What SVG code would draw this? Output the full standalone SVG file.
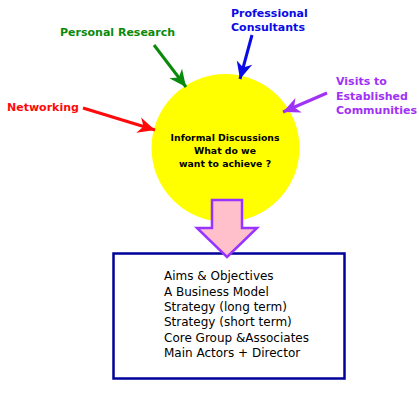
<svg xmlns="http://www.w3.org/2000/svg" width="419" height="400" viewBox="0 0 419 400">
<style>
.lbl{font-family:"DejaVu Sans","Liberation Sans",sans-serif;font-size:11px;font-weight:bold;}
.in{font-family:"DejaVu Sans","Liberation Sans",sans-serif;font-size:9.3px;font-weight:bold;fill:#000;}
.box{font-family:"DejaVu Sans","Liberation Sans",sans-serif;font-size:12px;fill:#000;}
.conn{stroke-width:3;fill:none;}
</style>
<defs>
<marker id="hg" markerUnits="userSpaceOnUse" viewBox="-18 -9 20 18" refX="0" refY="0" markerWidth="20" markerHeight="18" orient="auto"><path d="M0,0 L-17,-8 L-12,0 L-17,8 Z" fill="#0a8a0a"/></marker>
<marker id="hr" markerUnits="userSpaceOnUse" viewBox="-18 -9 20 18" refX="0" refY="0" markerWidth="20" markerHeight="18" orient="auto"><path d="M0,0 L-17,-8 L-12,0 L-17,8 Z" fill="#ff0a0a"/></marker>
<marker id="hb" markerUnits="userSpaceOnUse" viewBox="-18 -9 20 18" refX="0" refY="0" markerWidth="20" markerHeight="18" orient="auto"><path d="M0,0 L-17,-8 L-12,0 L-17,8 Z" fill="#0a0ae6"/></marker>
<marker id="hp" markerUnits="userSpaceOnUse" viewBox="-18 -9 20 18" refX="0" refY="0" markerWidth="20" markerHeight="18" orient="auto"><path d="M0,0 L-17,-8 L-12,0 L-17,8 Z" fill="#a032f5"/></marker>
</defs>
<rect width="419" height="400" fill="#fff"/>
<g id="discussion">
<circle cx="225.5" cy="148" r="74" fill="#ffff00"/>
<text class="in" x="225" y="141" text-anchor="middle">Informal Discussions</text>
<text class="in" x="225" y="154" text-anchor="middle">What do we</text>
<text class="in" x="225" y="166.5" text-anchor="middle">want to achieve ?</text>
</g>
<g id="personal-research"><text class="lbl" x="60" y="36" fill="#0a8a0a">Personal Research</text></g>
<g id="networking"><text class="lbl" x="7" y="111" fill="#ff0a0a">Networking</text></g>
<g id="professional-consultants">
<text class="lbl" x="231" y="17" fill="#0a0ae6">Professional</text>
<text class="lbl" x="231" y="31" fill="#0a0ae6">Consultants</text>
</g>
<g id="visits">
<text class="lbl" x="336" y="85" fill="#a032f5">Visits to</text>
<text class="lbl" x="336" y="100" fill="#a032f5">Established</text>
<text class="lbl" x="336" y="114" fill="#a032f5">Communities</text>
</g>
<g id="outcomes">
<rect x="113.5" y="253.5" width="231" height="125" fill="#fff" stroke="#00009c" stroke-width="2.5"/>
<text class="box" x="164" y="280">Aims &amp; Objectives</text>
<text class="box" x="164" y="295.5">A Business Model</text>
<text class="box" x="164" y="311">Strategy (long term)</text>
<text class="box" x="164" y="326">Strategy (short term)</text>
<text class="box" x="164" y="341.5">Core Group &amp;Associates</text>
<text class="box" x="164" y="357">Main Actors + Director</text>
</g>
<g id="connectors">
<line class="conn" x1="154" y1="45" x2="186" y2="87" stroke="#0a8a0a" marker-end="url(#hg)"/>
<line class="conn" x1="83" y1="108" x2="155" y2="130" stroke="#ff0a0a" marker-end="url(#hr)"/>
<line class="conn" x1="252" y1="35" x2="240" y2="79" stroke="#0a0ae6" marker-end="url(#hb)"/>
<line class="conn" x1="327" y1="93" x2="283" y2="112" stroke="#a032f5" marker-end="url(#hp)"/>
<path d="M212,200 L242,200 L242,228 L257,228 L227,257 L197,228 L212,228 Z" fill="#ffc0cb" stroke="#9933ff" stroke-width="2.5" stroke-linejoin="miter"/>
</g>
</svg>
